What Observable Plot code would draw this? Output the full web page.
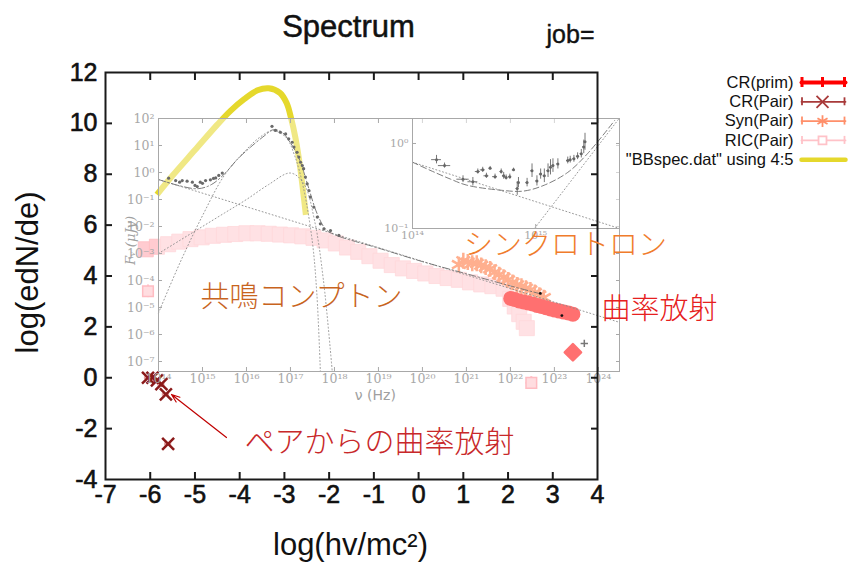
<!DOCTYPE html>
<html><head><meta charset="utf-8">
<script src="https://cdn.jsdelivr.net/npm/d3@7"></script>
<script src="https://cdn.jsdelivr.net/npm/@observablehq/plot@0.6"></script>
<style>
html,body{margin:0;padding:0;background:#fff;}
#wrap{position:relative;width:848px;height:565px;overflow:hidden;background:#fff;}
#wrap svg{position:absolute;left:0;top:0;}
</style></head><body><div id="wrap"></div>
<script>
// ---------------- DATA (main chart, log units) ----------------
const ricX = [-6.1,-5.85,-5.6,-5.35,-5.1,-4.85,-4.6,-4.35,-4.1,-3.85,-3.6,-3.35,-3.1,-2.85,-2.6,-2.35,-2.1,-1.85,-1.6,-1.35,-1.1,-0.85,-0.6,-0.35,-0.1,0.15,0.4,0.65,0.9,1.15,1.4,1.65,1.9,2.05,2.15,2.25,2.35,2.42];
const ricY = [5.05,5.15,5.25,5.35,5.45,5.52,5.58,5.62,5.65,5.68,5.68,5.66,5.63,5.6,5.56,5.5,5.4,5.28,5.12,4.95,4.78,4.6,4.43,4.3,4.2,4.1,4.0,3.92,3.85,3.75,3.67,3.6,3.5,3.1,2.8,2.5,2.2,1.95];
const ricLoneX = [-6.05, 2.52];
const ricLoneY = [3.4, -0.2];
const synX = [0.90,1.00,1.10,1.20,1.30,1.40,1.50,1.60,1.70,1.80,1.90,2.00,2.10,2.20,2.30,2.40,2.50,2.60,2.70,2.80];
const synY = [4.45,4.6,4.55,4.5,4.5,4.42,4.35,4.28,4.15,4.05,3.95,3.85,3.75,3.65,3.6,3.52,3.45,3.35,3.25,3.15];
const crPrimX = [2.06,2.15,2.25,2.35,2.45,2.55,2.65,2.75,2.85,2.95,3.05,3.15,3.25,3.35,3.45,3.45];
const crPrimY = [3.12,3.08,3.02,2.98,2.94,2.9,2.84,2.8,2.75,2.7,2.66,2.62,2.58,2.55,2.5,1.0];
const crPairX = [-6.05,-5.95,-5.85,-5.75,-5.65,-5.6];
const crPairY = [0.0,0.0,-0.1,-0.25,-0.65,-2.6];
const bbX = [-5.85,-5.5,-5.0,-4.5,-4.2,-3.9,-3.6,-3.35,-3.1,-2.95,-2.85,-2.75,-2.65,-2.58,-2.52];
const bbY = [7.2,7.95,8.95,9.95,10.5,10.95,11.3,11.38,11.2,10.8,10.2,9.4,8.3,7.3,6.4];
const xTickLabels = [-7,-6,-5,-4,-3,-2,-1,0,1,2,3,4];
const yTickLabels = [-4,-2,0,2,4,6,8,10,12];
const legLabels = ["CR(prim)","CR(Pair)","Syn(Pair)","RIC(Pair)","\"BBspec.dat\" using 4:5"];
const legColors = ["#ff0000","#a83a3a","#ff8f6a","#ffc2c8","#e5d82c"];

// ---------------- DATA (inset, log10 nu [Hz], log10 F [uJy]) ----------------
const insOptNu = [14.23,14.39,14.54,14.65,14.77,14.88,14.95,15.07,15.18,15.30,15.37,15.45,14.48,14.83,15.0,15.25];
const insOptF  = [-0.21,-0.30,-0.30,-0.32,-0.36,-0.52,-0.36,-0.30,-0.27,-0.20,-0.11,-0.02,-0.36,-0.48,-0.40,-0.22];
const insXNu = [16.58,16.66,16.77,16.89,16.96,17.04,17.08,17.15,17.19,17.23,17.27,17.30,17.34,17.38,17.42,17.45,17.53,17.61,17.68,17.76,17.91,18.10];
const insXF  = [1.71,1.56,1.49,1.43,1.25,1.12,0.94,0.75,0.57,0.38,0.26,0.14,-0.17,-0.42,-0.67,-0.91,-1.28,-1.65,-1.90,-2.09,-2.15,-2.33];
const insHiNu = [22.68,23.17,23.68];
const insHiF  = [-4.48,-5.30,-6.33];
const totNu = [14.0,14.5,14.9,15.2,15.5,15.8,16.1,16.4,16.6,16.8,17.0,17.2,17.4,17.6,17.8,18.0,19.0,20.0,21.0,22.0,22.7];
const totF  = [-0.26,-0.5,-0.6,-0.45,-0.05,0.5,0.95,1.35,1.58,1.5,1.1,0.5,-0.5,-1.5,-2.1,-2.3,-2.8,-3.3,-3.75,-4.2,-4.5];
const plNu = [14.0, 24.48];
const plF  = [-0.26, -5.55];
const compANu = [14.0,14.5,15.0,15.5,16.0,16.3,16.6,16.9,17.1,17.3,17.5,17.6,17.68];
const compAF  = [-5.2,-3.3,-1.6,-0.1,0.85,1.3,1.55,1.3,0.6,-0.6,-2.6,-4.5,-7.37];
const compBNu = [14.0,14.5,15.0,15.5,16.0,16.5,17.0,17.3,17.55,17.75,17.95];
const compBF  = [-3.0,-2.5,-2.0,-1.5,-1.0,-0.45,-0.02,-0.4,-1.8,-4.0,-7.37];
const insXTicks = [14,15,16,17,18,19,20,21,22,23,24];
const insYTicks = [2,1,0,-1,-2,-3,-4,-5,-6,-7];

// ---------------- DATA (sub-inset) ----------------
const subNu = [14.195,14.26,14.41,14.49,14.53,14.57,14.60,14.63,14.67,14.72,14.74,14.76,14.79,14.82,14.85,14.86,14.93,14.97,15.01,15.04,15.07,15.10,15.12,15.14,15.18,15.26,15.28,15.31,15.34,15.37,15.39,15.40];
const subF  = [-0.19,-0.26,-0.42,-0.45,-0.33,-0.31,-0.38,-0.29,-0.39,-0.33,-0.38,-0.40,-0.39,-0.31,-0.53,-0.46,-0.46,-0.32,-0.44,-0.36,-0.38,-0.32,-0.28,-0.26,-0.24,-0.20,-0.19,-0.18,-0.15,-0.12,-0.04,0.02];
const subErrF = [0.05,0.03,0.04,0.05,0.03,0.03,0.03,0.02,0.03,0.03,0.04,0.03,0.03,0.02,0.08,0.06,0.05,0.08,0.06,0.06,0.08,0.08,0.09,0.08,0.06,0.04,0.04,0.04,0.04,0.05,0.08,0.1];
const subErrNu = [0.04,0.05,0.05,0.04,0.02,0.02,0.02,0.01,0.02,0.01,0.01,0.01,0.01,0.01,0.01,0.01,0.01,0.01,0.01,0.01,0.01,0.01,0.01,0.01,0.01,0.01,0.01,0.01,0.01,0.01,0.01,0.01];
const subModelNu = [14.0,14.15,14.31,14.44,14.72,14.90,15.07,15.26,15.42,15.64];
const subModelF  = [-0.22,-0.32,-0.42,-0.49,-0.55,-0.56,-0.49,-0.34,-0.12,0.27];
const subPlNu = [14.0,15.68]; const subPlF = [-0.22,-1.0];
const subHotNu = [14.99,15.68]; const subHotF = [-1.0,0.3];
const subXTicks = [14,15]; const subYTicks = [0,-1];

// ---------------- helpers ----------------
const W = 848, H = 565;
const L = 105, R = 597, T = 72, B = 479;
const pxX = px => -7 + (px - L) * 11 / (R - L);
const pxY = py => 12 - (py - T) * 16 / (B - T);
const zip = (a, b) => a.map((v, i) => ({x: v, y: b[i]}));
const zipLog = (a, b) => a.map((v, i) => ({x: 10 ** v, y: 10 ** b[i]}));
const sansF = "Liberation Sans, Arial, Helvetica, sans-serif";
const cjk = "Noto Sans CJK JP, sans-serif";
const supMap = {"-":"⁻","0":"⁰","1":"¹","2":"²","3":"³","4":"⁴","5":"⁵","6":"⁶","7":"⁷","8":"⁸","9":"⁹"};
const pow10 = d => "10" + String(Math.round(Math.log10(d))).split("").map(c => supMap[c]).join("");
const wrap = document.getElementById("wrap");
const mainFrame = {width: W, height: H, marginLeft: L, marginRight: W - R, marginTop: T, marginBottom: H - B,
  x: {domain: [-7, 4], axis: null}, y: {domain: [-4, 12], axis: null}, style: {background: "none", overflow: "visible"}};

// ---------------- layer 1: main data ----------------
const ric = zip(ricX, ricY), ricLone = zip(ricLoneX, ricLoneY);
wrap.appendChild(Plot.plot({...mainFrame, marks: [
  Plot.dot(ric, {x: "x", y: "y", symbol: "square", r: 8.5, fill: "#ffcbd0", stroke: "#ffbcc2", strokeWidth: 0.8}),
  Plot.ruleY(ricLone, {x1: d => d.x - 0.12, x2: d => d.x + 0.12, y: "y", stroke: "#ffc6cc", strokeWidth: 2}),
  Plot.ruleX(ricLone, {x: "x", y1: d => d.y - 0.25, y2: d => d.y + 0.25, stroke: "#ffc6cc", strokeWidth: 2}),
  Plot.dot(ricLone, {x: "x", y: "y", symbol: "square", r: 6, fill: "#ffdde0", stroke: "#ffbcc2", strokeWidth: 1.5}),
  Plot.line(zip(bbX, bbY), {x: "x", y: "y", stroke: "#e5d82c", strokeWidth: 6, curve: "catmull-rom", strokeLinecap: "butt"}),
  Plot.dot(zip(synX, synY), {x: "x", y: "y", symbol: "asterisk", r: 7.5, stroke: "#ff763e", strokeWidth: 2.5}),
  Plot.dot(zip(crPrimX, crPrimY).slice(0, -1), {x: "x", y: "y", r: 7.5, fill: "#ff0a0a"}),
  Plot.dot(zip(crPrimX, crPrimY).slice(-1), {x: "x", y: "y", symbol: "square", rotate: 45, r: 6.5, fill: "#ff0a0a", stroke: "#ff0a0a", strokeWidth: 2.5, strokeLinejoin: "round"}),
  Plot.ruleY(zip(crPairX, crPairY), {x1: d => d.x - 0.08, x2: d => d.x + 0.08, y: "y", stroke: "#e8a0a0", strokeWidth: 3}),
  Plot.dot(zip(crPairX, crPairY), {x: "x", y: "y", symbol: "times", r: 5.5, stroke: "#8b1a1a", strokeWidth: 2.5})
]}));

// ---------------- layer 2: inset ----------------
const dl = (nu, f, o) => Plot.line(zipLog(nu, f), {x: "x", y: "y", stroke: "#888", strokeWidth: 0.9, ...o});
const dotted = {strokeDasharray: "1,2.5", stroke: "#8c8c8c", strokeWidth: 0.9};
wrap.appendChild(Plot.plot({width: W, height: H, marginLeft: 158, marginRight: W - 619, marginTop: 118, marginBottom: H - 371,
  x: {type: "log", domain: [1e14, 10 ** 24.48], axis: null}, y: {type: "log", domain: [10 ** -7.37, 100], axis: null},
  style: {background: "none", overflow: "visible"}, marks: [
  Plot.frame({fill: "white", fillOpacity: 0.42, stroke: null}),
  dl(plNu, plF, dotted),
  dl(compANu, compAF, {...dotted, curve: "catmull-rom"}),
  dl(compBNu, compBF, {...dotted, curve: "catmull-rom"}),
  dl(totNu, totF, {strokeDasharray: "7,2.5,1.5,2.5", stroke: "#6e6e6e", strokeWidth: 0.9, curve: "catmull-rom"}),
  Plot.dot(zipLog(insOptNu, insOptF), {x: "x", y: "y", r: 1.6, fill: "#6a6a6a"}),
  Plot.dot(zipLog(insXNu, insXF), {x: "x", y: "y", r: 1.6, fill: "#6a6a6a"}),
  Plot.dot(zipLog(insHiNu, insHiF).slice(0, 2), {x: "x", y: "y", r: 1.4, fill: "#111"}),
  Plot.dot(zipLog(insHiNu, insHiF).slice(2), {x: "x", y: "y", symbol: "plus", r: 2.5, stroke: "#777"}),
  Plot.frame({stroke: "#a8a8a8"}),
  Plot.axisX({ticks: insXTicks.map(v => 10 ** v), anchor: "bottom", tickSize: -4, fill: "none", stroke: "#a8a8a8", label: null}),
  Plot.axisX({ticks: insXTicks.map(v => 10 ** v), anchor: "top", tickSize: -4, fill: "none", stroke: "#a8a8a8", label: null}),
  Plot.axisY({ticks: insYTicks.map(v => 10 ** v), anchor: "left", tickSize: -4, fill: "none", stroke: "#a8a8a8", label: null}),
  Plot.axisY({ticks: insYTicks.map(v => 10 ** v), anchor: "right", tickSize: -4, fill: "none", stroke: "#a8a8a8", label: null}),
  Plot.axisX({ticks: insXTicks.map(v => 10 ** v), anchor: "bottom", tickSize: 0, tickPadding: 3, tickFormat: pow10, fill: "#a8a8a8", fontSize: 12.5, fontFamily: "DejaVu Serif, serif", label: null}),
  Plot.axisY({ticks: insYTicks.map(v => 10 ** v), anchor: "left", tickSize: 0, tickPadding: 4, tickFormat: pow10, fill: "#a8a8a8", fontSize: 12.5, fontFamily: "DejaVu Serif, serif", label: null}),
  Plot.text(["ν (Hz)"], {x: 10 ** 18.93, y: 10 ** -8.25, fontSize: 14, fill: "#a0a0a0", fontFamily: "DejaVu Sans, sans-serif"}),
  Plot.text(["Fᵥ (μJy)"], {x: 10 ** 13.36, y: 10 ** -2.52, rotate: -90, fontSize: 13, fontStyle: "italic", fill: "#a0a0a0", fontFamily: "DejaVu Serif, serif"})
]}));

// ---------------- layer 3: sub-inset ----------------
const sub = subNu.map((v, i) => ({nu: v, f: subF[i], ef: subErrF[i], en: subErrNu[i]}));
wrap.appendChild(Plot.plot({width: W, height: H, marginLeft: 412, marginRight: W - 619, marginTop: 118, marginBottom: H - 228,
  x: {type: "log", domain: [1e14, 10 ** 15.68], axis: null}, y: {type: "log", domain: [0.1, 10 ** 0.294], axis: null},
  style: {background: "none", overflow: "visible"}, marks: [
  Plot.frame({fill: "white", fillOpacity: 0.5, stroke: null}),
  dl(subPlNu, subPlF, dotted),
  dl(subHotNu, subHotF, dotted),
  dl(subModelNu, subModelF, {strokeDasharray: "6,3", stroke: "#6e6e6e", strokeWidth: 0.9, curve: "catmull-rom"}),
  Plot.ruleX(sub, {x: d => 10 ** d.nu, y1: d => 10 ** (d.f - d.ef), y2: d => 10 ** (d.f + d.ef), stroke: "#777", strokeWidth: 1}),
  Plot.ruleY(sub, {y: d => 10 ** d.f, x1: d => 10 ** (d.nu - d.en), x2: d => 10 ** (d.nu + d.en), stroke: "#777", strokeWidth: 1}),
  Plot.dot(sub, {x: d => 10 ** d.nu, y: d => 10 ** d.f, r: 1.5, fill: "#666"}),
  Plot.frame({stroke: "#a8a8a8"}),
  Plot.axisY({ticks: subYTicks.map(v => 10 ** v), anchor: "left", tickSize: -4, fill: "none", stroke: "#a8a8a8", label: null}),
  Plot.axisY({ticks: subYTicks.map(v => 10 ** v), anchor: "right", tickSize: -4, fill: "none", stroke: "#a8a8a8", label: null}),
  Plot.axisX({ticks: subXTicks.map(v => 10 ** v), anchor: "bottom", tickSize: -4, fill: "none", stroke: "#a8a8a8", label: null}),
  Plot.axisX({ticks: subXTicks.map(v => 10 ** v), anchor: "bottom", tickSize: 0, tickPadding: 3, tickFormat: pow10, fill: "#a8a8a8", fontSize: 11, fontFamily: "DejaVu Serif, serif", label: null}),
  Plot.axisY({ticks: subYTicks.map(v => 10 ** v), anchor: "left", tickSize: 0, tickPadding: 4, tickFormat: pow10, fill: "#a8a8a8", fontSize: 11, fontFamily: "DejaVu Serif, serif", label: null})
]}));

// ---------------- layer 4: main frame, axes, text, legend ----------------
const txt = (s, px, py, o) => Plot.text([s], {x: pxX(px), y: pxY(py), text: d => d, fontFamily: sansF, ...o});
const legendMarks = [];
legLabels.forEach((lab, i) => {
  const py = 82 + i * 19.3, c = legColors[i];
  const row = [{x: pxX(801), y: pxY(py)}, {x: pxX(845), y: pxY(py)}];
  legendMarks.push(txt(lab, 793, py, {textAnchor: "end", fontSize: 16.5, fill: "#111"}));
  legendMarks.push(Plot.line(row, {x: "x", y: "y", stroke: c, strokeWidth: i === 0 ? 4 : (i === 4 ? 4.5 : 1.8)}));
  if (i < 4) {
    const bars = [801.5, 844].concat(i === 0 ? [822] : []).map(px => ({x: pxX(px)}));
    legendMarks.push(Plot.ruleX(bars, {x: "x", y1: pxY(py - (i === 0 ? 5 : 4)), y2: pxY(py + (i === 0 ? 5 : 4)), stroke: c, strokeWidth: i === 0 ? 3 : 1.8}));
  }
  if (i >= 1 && i <= 3) {
    const sym = ["", "times", "asterisk", "square"][i];
    legendMarks.push(Plot.dot([{x: pxX(822), y: pxY(py)}], {x: "x", y: "y", symbol: sym, r: i === 3 ? 4.5 : 5.5, stroke: c, strokeWidth: 1.8, fill: i === 3 ? "white" : "none"}));
  }
});
const axisStyle = {stroke: "#1a1a1a", strokeWidth: 2, fill: "none", label: null, tickSize: -7};
const labStyle = {tickSize: 0, fontSize: 25, fontFamily: sansF, fill: "#111", textStroke: "#111", textStrokeWidth: 0.6, tickFormat: d => String(d), label: null};
wrap.appendChild(Plot.plot({...mainFrame, marks: [
  Plot.axisX({...axisStyle, ticks: xTickLabels.slice(1, -1), anchor: "bottom"}),
  Plot.axisX({...axisStyle, ticks: xTickLabels.slice(1, -1), anchor: "top"}),
  Plot.axisY({...axisStyle, ticks: yTickLabels.slice(1, -1), anchor: "left"}),
  Plot.axisY({...axisStyle, ticks: yTickLabels.slice(1, -1), anchor: "right"}),
  Plot.frame({stroke: "#1a1a1a", strokeWidth: 2}),
  Plot.axisX({...labStyle, ticks: xTickLabels, anchor: "bottom", tickPadding: 6}),
  Plot.axisY({...labStyle, ticks: yTickLabels, anchor: "left", tickPadding: 8}),
  txt("Spectrum", 348, 27, {fontSize: 31, fill: "#111", stroke: "#111", strokeWidth: 0.5}),
  txt("job=", 570, 34, {fontSize: 25, fill: "#111", stroke: "#111", strokeWidth: 0.4}),
  txt("log(hv/mc²)", 350, 545, {fontSize: 31, fill: "#111"}),
  txt("log(edN/de)", 28, 272, {fontSize: 31, fill: "#111", rotate: -90}),
  txt("共鳴コンプトン", 301, 297, {fontFamily: cjk, fontSize: 29, fill: "#c8641e", fontWeight: 300}),
  txt("シンクロトロン", 565, 245, {fontFamily: cjk, fontSize: 29, fill: "#f07c2c", fontWeight: 300}),
  txt("曲率放射", 659, 309, {fontFamily: cjk, fontSize: 29, fill: "#e62020", fontWeight: 300}),
  txt("ペアからの曲率放射", 244, 442, {fontFamily: cjk, fontSize: 30, fill: "#c8282a", fontWeight: 300, textAnchor: "start"}),
  Plot.arrow([{x1: pxX(226), y1: pxY(437), x2: pxX(171), y2: pxY(394)}], {x1: "x1", y1: "y1", x2: "x2", y2: "y2", stroke: "#c00000", strokeWidth: 1.2, headLength: 11, headAngle: 40}),
  ...legendMarks
]}));
</script></body></html>
